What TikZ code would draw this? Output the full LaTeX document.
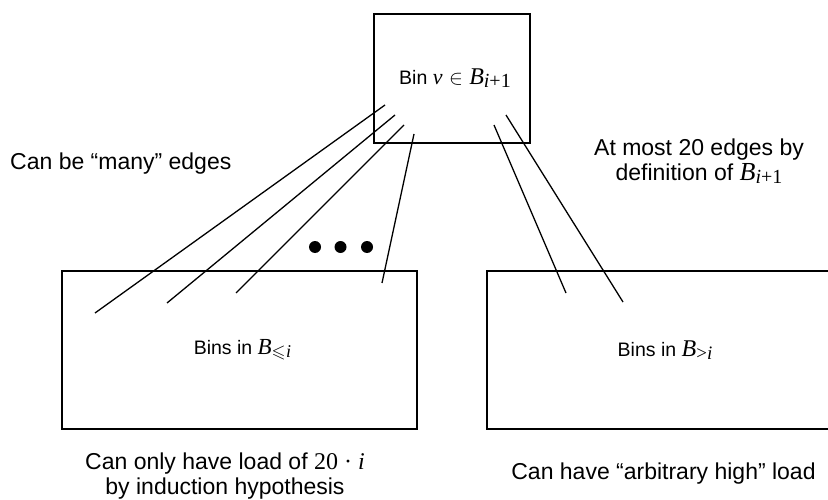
\documentclass[tikz,border=0pt]{standalone}
\usepackage{amssymb}
\usepackage{fontspec}
\setmainfont{Liberation Sans}
\newfontfamily\tnr{Liberation Serif}
% \mathB{letter size}{subscript size}{subscript}
\newcommand\mathB[3]{{\tnr\itshape\fontsize{#1}{#1}\selectfont B}\raisebox{-0.3ex}{\tnr\fontsize{#2}{#2}\selectfont #3}}
\begin{document}
\begin{tikzpicture}[x=1pt,y=-1pt,
  box/.style={draw,line width=1.3pt,inner sep=0pt,font=\fontsize{19.5}{23}\selectfont},
  note/.style={inner sep=0pt,align=center,font=\fontsize{23}{25}\selectfont},
  edge/.style={line width=1.3pt},
  dotmark/.style={fill=black,draw=none,circle,minimum size=12pt,inner sep=0pt}]
\useasboundingbox (0,0) rectangle (828,500);
\begin{scope}
\clip (0,0) rectangle (828,500);
\node[box,minimum width=156pt,minimum height=129pt] (top) at (452,78.5)
  {\hspace*{6pt}Bin {\tnr\itshape\fontsize{22}{22}\selectfont v}\kern1pt\ $\in$\kern1pt\ \mathB{24}{20}{{\itshape i}+1}};
\node[box,minimum width=355pt,minimum height=158pt] (left) at (239.5,350)
  {\hspace*{6pt}Bins in \mathB{23}{18}{$\leqslant$\kern0.5pt{\itshape i}}};
\node[box,minimum width=356pt,minimum height=158pt] (right) at (665,350)
  {Bins in \mathB{24}{19}{>{\itshape i}}};
\end{scope}
% edge end points
\coordinate (t1) at (385,105);
\coordinate (t2) at (395,115);
\coordinate (t3) at (404,125);
\coordinate (t4) at (414,134);
\coordinate (t5) at (494,125);
\coordinate (t6) at (506,115);
\coordinate (b1) at (95,313);
\coordinate (b2) at (167,303);
\coordinate (b3) at (236,293);
\coordinate (b4) at (382,283);
\coordinate (b5) at (566,293);
\coordinate (b6) at (623,302);
\draw[edge] (t1) -- (b1);
\draw[edge] (t2) -- (b2);
\draw[edge] (t3) -- (b3);
\draw[edge] (t4) -- (b4);
\draw[edge] (t5) -- (b5);
\draw[edge] (t6) -- (b6);
\node[dotmark] (d1) at (315,247) {};
\node[dotmark] (d2) at (340.5,247) {};
\node[dotmark] (d3) at (367,247) {};
\node[note,anchor=west] (many) at (10,164) {Can be “many” edges};
\node[note] (most) at (699,161) {At most 20 edges by\\ definition of \mathB{26}{20}{{\itshape i}+1}};
\node[note] (only) at (225,476) {Can only have load of {\tnr\fontsize{24}{24}\selectfont 20 · \itshape i}\\ by induction hypothesis};
\node[note] (arb) at (663.5,474) {Can have “arbitrary high” load};
\end{tikzpicture}
\end{document}
